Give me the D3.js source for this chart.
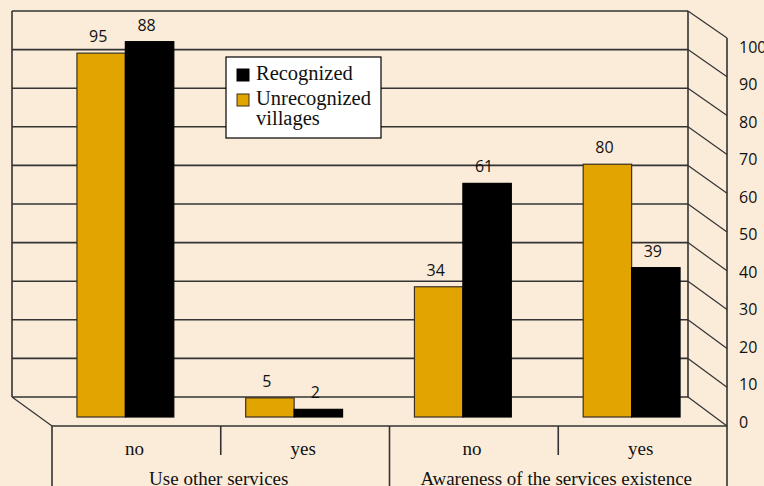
<!DOCTYPE html>
<html lang="en">
<head>
    <meta charset="UTF-8">
    <title>Use of services, recognized vs unrecognized villages</title>
    <script src="https://d3js.org/d3.v7.min.js"></script>
    <style>
        body { margin: 0; background: #fbecd9; overflow: hidden; }
        svg { display: block; }
        .serif { font-family: "Liberation Serif", "Times New Roman", serif; }
        .sans { font-family: "Open Sans", "DejaVu Sans", sans-serif; }
    </style>
</head>
<body>
    <div class="chart"></div>

    <script>
        // data
        const groups = ["Use other services", "Awareness of the services existence"];
        const categories = ["no", "yes", "no ", "yes "];
        const categoryGroup = [0, 0, 1, 1];
        const categoryText = ["no", "yes", "no", "yes"];
        const seriesNames = ["Unrecognized villages", "Recognized"];
        // bar heights as drawn in the picture
        const unrecognized = [95, 5, 34, 66];
        const recognized = [98, 2, 61, 39];
        // data labels as printed on the picture
        const unrecognizedLabels = ["95", "5", "34", "80"];
        const recognizedLabels = ["88", "2", "61", "39"];
        const yTicks = [0, 10, 20, 30, 40, 50, 60, 70, 80, 90, 100];

        const W = 764, H = 486;
        const colors = { "Unrecognized villages": "#e2a400", "Recognized": "#000000" };
        const gridColor = "#333";

        const svg = d3.select('.chart')
            .append('svg')
            .attr('width', W)
            .attr('height', H);

        // pseudo 3d planes: back wall, bar plane, front edge
        const back = { x0: 12, x1: 688 };
        const front = { x0: 52, x1: 727 };

        const yBack = d3.scaleLinear().domain([0, 100]).range([397, 11]);
        const yFront = d3.scaleLinear().domain([0, 100]).range([426, 38]);
        const yBar = d3.scaleLinear().domain([0, 100]).range([417, 34]);
        const yLabel = d3.scaleLinear().domain([0, 100]).range([422, 47]);

        // back wall gridlines
        const grid = svg.append('g')
            .attr('stroke', gridColor)
            .attr('stroke-width', 1.6)
            .attr('fill', 'none');

        grid.selectAll('.h')
            .data(yTicks)
            .enter().append('line')
            .attr('x1', back.x0).attr('x2', back.x1)
            .attr('y1', d => yBack(d)).attr('y2', d => yBack(d));

        // right side diagonals toward the front axis
        grid.selectAll('.d')
            .data(yTicks)
            .enter().append('line')
            .attr('stroke-width', 1.2)
            .attr('x1', back.x1).attr('x2', front.x1)
            .attr('y1', d => yBack(d)).attr('y2', d => yFront(d));

        // wall edges
        grid.append('line').attr('x1', back.x0).attr('x2', back.x0)
            .attr('y1', yBack(0)).attr('y2', yBack(100));
        grid.append('line').attr('x1', back.x1).attr('x2', back.x1)
            .attr('y1', yBack(0)).attr('y2', yBack(100));
        grid.append('line').attr('stroke-width', 1.2)
            .attr('x1', back.x0).attr('x2', front.x0)
            .attr('y1', yBack(0)).attr('y2', yFront(0));
        grid.append('line').attr('x1', front.x0).attr('x2', front.x1)
            .attr('y1', yFront(0)).attr('y2', yFront(0));

        // bars
        const x0 = d3.scaleBand()
            .domain(categories)
            .range([41, 716])
            .paddingInner(0.426)
            .paddingOuter(0.213);

        const x1 = d3.scaleBand()
            .domain(seriesNames)
            .range([0, x0.bandwidth()]);

        const rows = categories.map((c, i) => ({
            cat: c,
            bars: [
                { name: seriesNames[0], value: unrecognized[i], label: unrecognizedLabels[i] },
                { name: seriesNames[1], value: recognized[i], label: recognizedLabels[i] }
            ]
        }));

        const cat = svg.selectAll('.cat')
            .data(rows)
            .enter().append('g')
            .attr('transform', d => `translate(${x0(d.cat)},0)`);

        cat.selectAll('rect')
            .data(d => d.bars)
            .enter().append('rect')
            .attr('x', d => x1(d.name))
            .attr('y', d => yBar(d.value))
            .attr('width', x1.bandwidth())
            .attr('height', d => yBar(0) - yBar(d.value))
            .attr('fill', d => colors[d.name])
            .attr('stroke', d => d.name === "Recognized" ? '#000' : '#3a3020')
            .attr('stroke-width', 1.2);

        cat.selectAll('text')
            .data(d => d.bars)
            .enter().append('text')
            .attr('class', 'sans')
            .attr('x', d => x1(d.name) + x1.bandwidth() / 2 - 3)
            .attr('y', d => yBar(d.value) - 11)
            .attr('text-anchor', 'middle')
            .attr('font-size', 16)
            .attr('fill', '#111')
            .text(d => d.label);

        // front value axis
        svg.append('line')
            .attr('stroke', gridColor).attr('stroke-width', 1.6)
            .attr('x1', front.x1).attr('x2', front.x1)
            .attr('y1', yFront(100)).attr('y2', H);

        svg.append('g')
            .selectAll('text')
            .data(yTicks)
            .enter().append('text')
            .attr('class', 'sans')
            .attr('x', 739)
            .attr('y', d => yLabel(d))
            .attr('dy', '0.35em')
            .attr('font-size', 16)
            .attr('fill', '#111')
            .text(d => d);

        // category axis (two levels)
        const xc = d3.scaleBand().domain(categories).range([front.x0, front.x1]);
        const axisG = svg.append('g').attr('stroke', gridColor).attr('stroke-width', 1.6);

        axisG.append('line').attr('x1', front.x0).attr('x2', front.x0)
            .attr('y1', yFront(0)).attr('y2', H);
        categories.forEach((c, i) => {
            if (i === 0) return;
            const full = categoryGroup[i] !== categoryGroup[i - 1];
            axisG.append('line')
                .attr('x1', xc(c)).attr('x2', xc(c))
                .attr('y1', yFront(0)).attr('y2', full ? H : 455);
        });

        svg.selectAll('.catlabel')
            .data(categories)
            .enter().append('text')
            .attr('class', 'serif')
            .attr('x', d => xc(d) + xc.bandwidth() / 2 - 2)
            .attr('y', 455)
            .attr('text-anchor', 'middle')
            .attr('font-size', 19)
            .attr('fill', '#111')
            .text((d, i) => categoryText[i]);

        svg.selectAll('.grouplabel')
            .data(groups)
            .enter().append('text')
            .attr('class', 'serif')
            .attr('x', (d, gi) => {
                const cs = categories.filter((c, i) => categoryGroup[i] === gi);
                return (xc(cs[0]) + xc(cs[cs.length - 1]) + xc.bandwidth()) / 2 - 2;
            })
            .attr('y', 485)
            .attr('text-anchor', 'middle')
            .attr('font-size', 19)
            .attr('fill', '#111')
            .text(d => d);

        // legend
        const legend = svg.append('g').attr('transform', 'translate(226,57)');
        legend.append('rect')
            .attr('width', 155).attr('height', 81)
            .attr('fill', '#fff').attr('stroke', '#000').attr('stroke-width', 1.2);

        const legendItems = [
            { name: "Recognized", lines: ["Recognized"] },
            { name: "Unrecognized villages", lines: ["Unrecognized", "villages"] }
        ];
        legendItems.forEach((item, i) => {
            const g = legend.append('g').attr('transform', `translate(0,${23 + i * 25})`);
            g.append('rect')
                .attr('x', 11).attr('y', -11).attr('width', 12).attr('height', 12)
                .attr('fill', colors[item.name])
                .attr('stroke', item.name === "Recognized" ? '#000' : '#3a3020');
            item.lines.forEach((t, j) => {
                g.append('text')
                    .attr('class', 'serif')
                    .attr('x', 30)
                    .attr('y', j * 20)
                    .attr('font-size', 20.5)
                    .attr('fill', '#111')
                    .text(t);
            });
        });
    </script>
</body>
</html>
